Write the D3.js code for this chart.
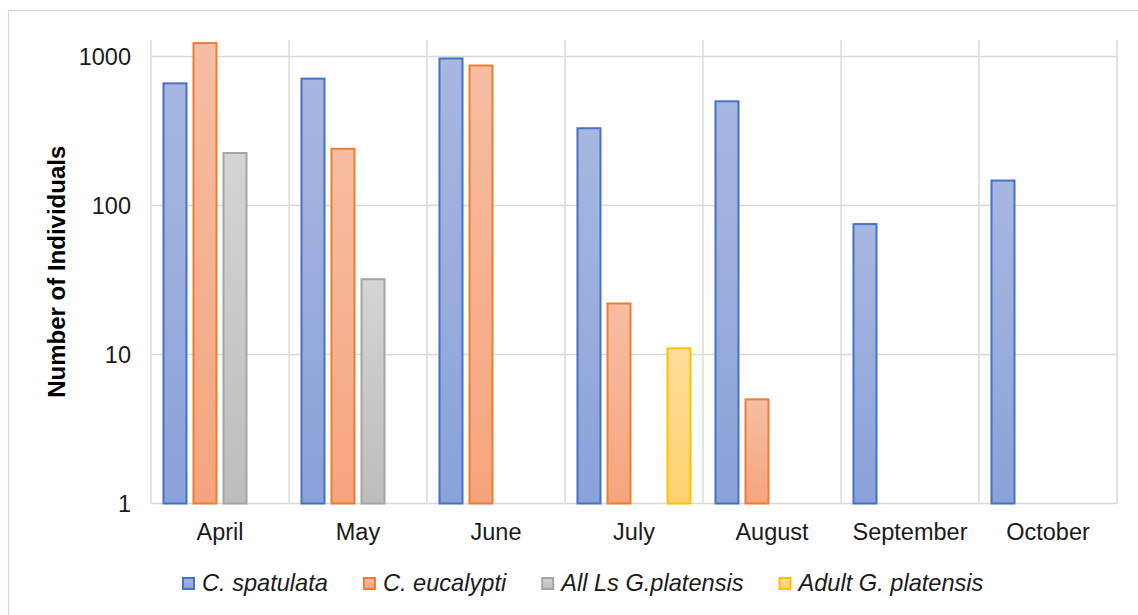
<!DOCTYPE html>
<html>
<head>
<meta charset="utf-8">
<script src="https://cdn.jsdelivr.net/npm/d3@7/dist/d3.min.js"></script>
<style>
  html, body { margin: 0; padding: 0; background: #fff; }
  svg { display: block; }
  text { font-family: "Liberation Sans", Arial, sans-serif; }
</style>
</head>
<body>
<svg id="chart" width="1138" height="615"></svg>
<script>
// ---- data ----
const months = ["April", "May", "June", "July", "August", "September", "October"];
const seriesNames = ["C. spatulata", "C. eucalypti", "All Ls G.platensis", "Adult G. platensis"];
const spatulata = [660, 710, 970, 330, 500, 75, 147];
const eucalypti = [1230, 240, 870, 22, 5, null, null];
const allLsPlatensis = [225, 32, null, null, null, null, null];
const adultPlatensis = [null, null, null, 11, null, null, null];
const yTicks = [1, 10, 100, 1000];
const yTickLabels = ["1", "10", "100", "1000"];
const yAxisTitle = "Number of Individuals";
const yMax = 1290;

const seriesValues = [spatulata, eucalypti, allLsPlatensis, adultPlatensis];
const colors = [
  { stroke: "#4472c4", top: "#a8b7e0", bottom: "#8aa2da" },
  { stroke: "#ed7d31", top: "#f7bea3", bottom: "#f6a47d" },
  { stroke: "#a5a5a5", top: "#d4d4d4", bottom: "#bdbdbd" },
  { stroke: "#ffc000", top: "#ffdd9a", bottom: "#ffd270" }
];

// ---- layout ----
const svg = d3.select("#chart");
const plot = { left: 151, right: 1117, top: 40, bottom: 503.5 };

// chart border
svg.append("rect")
  .attr("x", 8.5).attr("y", 10.5)
  .attr("width", 1140).attr("height", 620)
  .attr("fill", "#fff").attr("stroke", "#d9d9d9").attr("stroke-width", 1.33);

const x0 = d3.scaleBand().domain(months).range([plot.left, plot.right]).padding(0);
const x1 = d3.scaleBand().domain(d3.range(seriesNames.length))
  .range([0, x0.bandwidth()]).paddingInner(1 / 6).paddingOuter(0.383);
const y = d3.scaleLog().domain([1, yMax]).range([plot.bottom, plot.top]);

// gradients
const defs = svg.append("defs");
colors.forEach((c, i) => {
  const g = defs.append("linearGradient").attr("id", "grad" + i)
    .attr("x1", 0).attr("y1", 0).attr("x2", 0).attr("y2", 1);
  g.append("stop").attr("offset", "0%").attr("stop-color", c.top);
  g.append("stop").attr("offset", "100%").attr("stop-color", c.bottom);
});

// gridlines
const grid = svg.append("g");
grid.selectAll("line.h").data(yTicks).join("line")
  .attr("x1", plot.left).attr("x2", plot.right)
  .attr("y1", d => y(d)).attr("y2", d => y(d))
  .attr("stroke", "#d9d9d9").attr("stroke-width", 1.4);
const boundaries = months.map(m => x0(m)).concat([x0(months[months.length - 1]) + x0.bandwidth()]);
grid.selectAll("line.v").data(boundaries).join("line")
  .attr("x1", d => d).attr("x2", d => d)
  .attr("y1", plot.top).attr("y2", plot.bottom)
  .attr("stroke", "#d9d9d9").attr("stroke-width", 1.4);

// bars
const barData = [];
seriesValues.forEach((vals, si) => {
  vals.forEach((v, mi) => {
    if (v != null) barData.push({ si, month: months[mi], value: v });
  });
});
const sw = 2;
svg.append("g").selectAll("rect").data(barData).join("rect")
  .attr("x", d => x0(d.month) + x1(d.si) + sw / 2)
  .attr("width", x1.bandwidth() - sw)
  .attr("y", d => y(d.value))
  .attr("height", d => y(1) - y(d.value))
  .attr("fill", d => "url(#grad" + d.si + ")")
  .attr("stroke", d => colors[d.si].stroke)
  .attr("stroke-width", sw);

// y tick labels
const yAxis = d3.axisLeft(y).tickValues(yTicks)
  .tickFormat((d, i) => yTickLabels[i]).tickSize(0).tickPadding(0);
const yg = svg.append("g").attr("transform", `translate(${plot.left - 20},0)`).call(yAxis);
yg.select(".domain").remove();
yg.selectAll("text").attr("font-size", 23.5).attr("fill", "#1a1a1a")
  .attr("font-family", "Liberation Sans, Arial, sans-serif");

// x labels
const xAxis = d3.axisBottom(x0).tickSize(0).tickPadding(0);
const xg = svg.append("g").attr("transform", `translate(0,${plot.bottom})`).call(xAxis);
xg.select(".domain").remove();
xg.selectAll("text").attr("font-size", 23.5).attr("fill", "#1a1a1a")
  .attr("dy", null).attr("y", 36)
  .attr("font-family", "Liberation Sans, Arial, sans-serif");

// y axis title
svg.append("text")
  .attr("transform", `translate(65,${(plot.top + plot.bottom) / 2}) rotate(-90)`)
  .attr("text-anchor", "middle")
  .attr("font-size", 24).attr("font-weight", "bold").attr("fill", "#000")
  .text(yAxisTitle);

// legend
const legend = svg.append("g");
let lx = 182;
const ly = 591;
seriesNames.forEach((name, i) => {
  const g = legend.append("g");
  g.append("rect").attr("x", lx + 1).attr("y", ly - 13).attr("width", 11).attr("height", 11)
    .attr("fill", "url(#grad" + i + ")").attr("stroke", colors[i].stroke).attr("stroke-width", 2);
  const t = g.append("text").attr("x", lx + 20).attr("y", ly)
    .attr("font-size", 23.6).attr("font-style", "italic").attr("fill", "#1a1a1a").text(name);
  const w = t.node().getComputedTextLength();
  lx = lx + 20 + w + 35;
});
</script>
</body>
</html>
